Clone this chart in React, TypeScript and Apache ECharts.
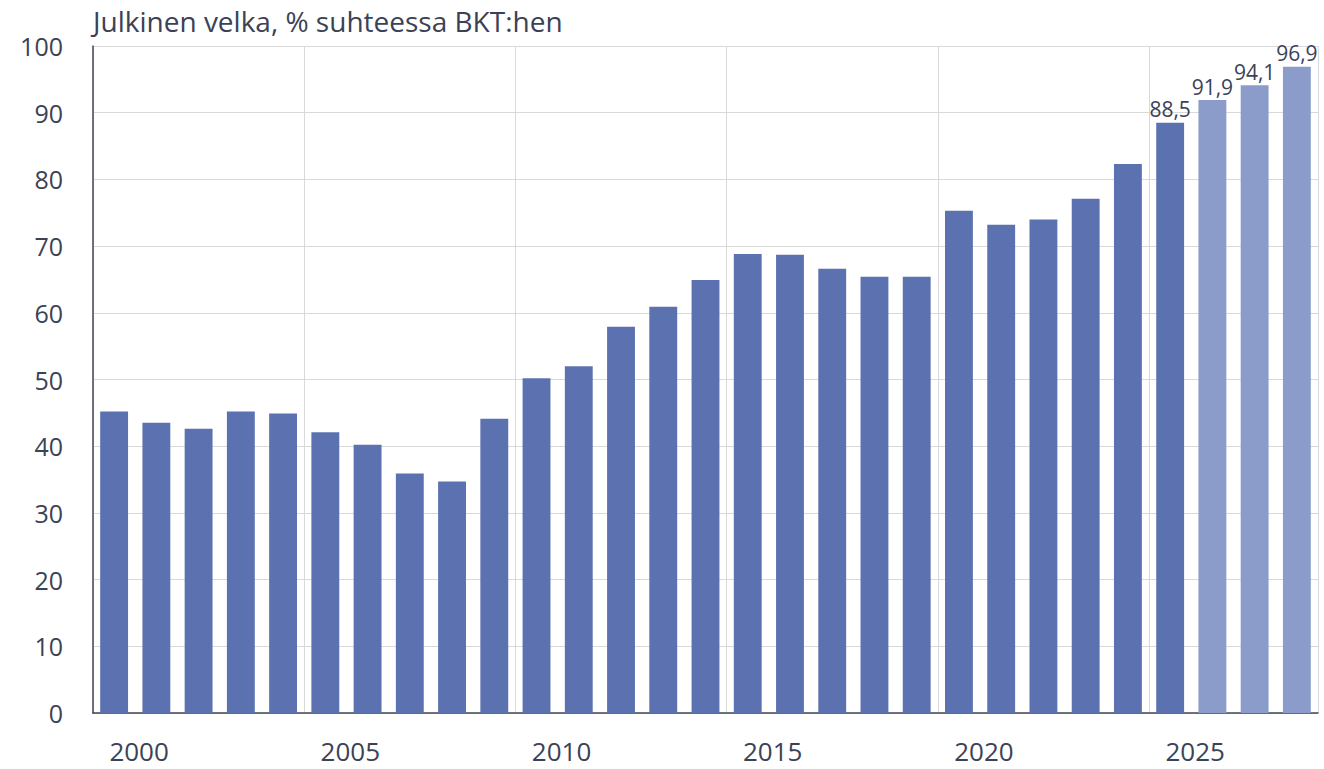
import React, { useEffect, useRef } from "react";
import * as echarts from "echarts";

const years = [
  "2000", "2001", "2002", "2003", "2004", "2005", "2006", "2007", "2008", "2009",
  "2010", "2011", "2012", "2013", "2014", "2015", "2016", "2017", "2018", "2019",
  "2020", "2021", "2022", "2023", "2024", "2025", "2026", "2027", "2028",
];
const debt = [
  45.2, 43.5, 42.6, 45.2, 44.9, 42.1, 40.2, 35.9, 34.7, 44.1,
  50.2, 52.0, 57.9, 60.9, 64.9, 68.8, 68.7, 66.6, 65.4, 65.4,
  75.3, 73.2, 74.0, 77.1, 82.3, 88.5, 91.9, 94.1, 96.9,
];
const forecastFrom = "2026";
const labelledFrom = "2025";
const title = "Julkinen velka, % suhteessa BKT:hen";

const FONT = "'Open Sans', 'Noto Sans', sans-serif";
const TEXT = "#3b4256";
const DARK = "#5c72b0";
const LIGHT = "#8c9cca";

export default function App() {
  const ref = useRef<HTMLDivElement>(null);
  useEffect(() => {
    if (!ref.current) return;
    const chart = echarts.init(ref.current, undefined, { renderer: "svg" });
    const fIdx = years.indexOf(forecastFrom);
    const lIdx = years.indexOf(labelledFrom);
    chart.setOption({
      animation: false,
      title: {
        text: title,
        left: 88,
        top: 2,
        textStyle: { fontFamily: FONT, fontSize: 28, fontWeight: "normal", color: TEXT },
      },
      grid: { left: 93, right: 6, top: 46, bottom: 56 },
      xAxis: {
        type: "category",
        data: years,
        boundaryGap: true,
        axisLine: { show: true, lineStyle: { color: "#404654", width: 1.5 } },
        axisTick: { show: false },
        axisLabel: {
          interval: 4,
          margin: 25,
          padding: [0, 0, 0, 50],
          fontFamily: FONT,
          fontSize: 26,
          color: TEXT,
        },
        splitLine: {
          show: true,
          interval: (i: number) => i % 5 === 0,
          lineStyle: { color: "#d9d9d9", width: 1 },
        },
      },
      yAxis: {
        type: "value",
        min: 0,
        max: 100,
        interval: 10,
        axisLine: { show: true, lineStyle: { color: "#404654", width: 1.5 } },
        axisTick: { show: false },
        axisLabel: { margin: 30, fontFamily: FONT, fontSize: 25, color: TEXT },
        splitLine: { show: true, lineStyle: { color: "#d9d9d9", width: 1 } },
      },
      series: [
        {
          type: "bar",
          barCategoryGap: "34%",
          data: debt.map((v, i) => ({
            value: v,
            itemStyle: { color: i >= fIdx ? LIGHT : DARK },
            label: {
              show: i >= lIdx,
              position: "top",
              distance: 3,
              formatter: (p: any) => String(p.value.toFixed(1)).replace(".", ","),
              fontFamily: FONT,
              fontSize: 21,
              color: TEXT,
            },
          })),
        },
      ],
    });
    return () => chart.dispose();
  }, []);
  return <div ref={ref} style={{ width: 1324, height: 769, position: "absolute", left: 0, top: 0 }} />;
}
